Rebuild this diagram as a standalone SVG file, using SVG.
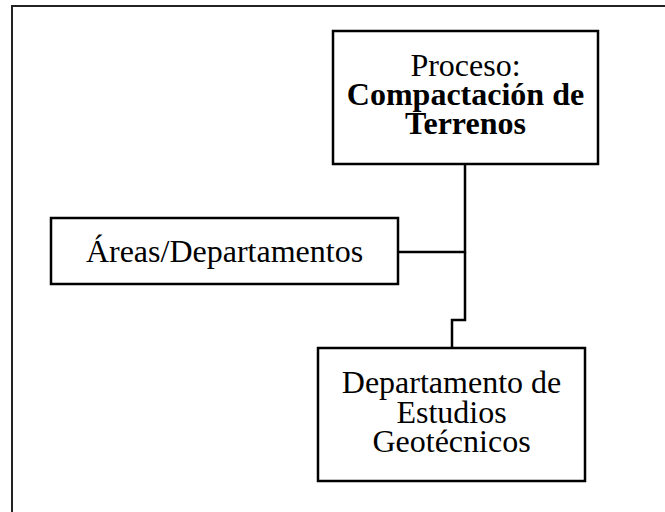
<svg xmlns="http://www.w3.org/2000/svg" width="665" height="512" viewBox="0 0 665 512">
<style>
.box{fill:#fff;stroke:#000;stroke-width:2.5}
.t{font-family:"Liberation Serif","Times New Roman",serif;font-size:32px;fill:#000;text-anchor:middle}
.b{font-weight:bold}
.c{fill:none;stroke:#000;stroke-width:2.5}
.frame{fill:none;stroke:#222;stroke-width:2}
</style>
<rect width="665" height="512" fill="#fff"/>
<path class="frame" d="M12,512 V6 H665"/>
<g id="connectors">
<path class="c" d="M465,164 V252 H398"/>
<path class="c" d="M465,252 V320 H452 V348"/>
</g>
<g id="proceso">
<rect class="box" x="333" y="31" width="265" height="133"/>
<text class="t" x="465.5" y="76">Proceso:</text>
<text class="t b" x="465.5" y="105">Compactación de</text>
<text class="t b" x="465.5" y="134">Terrenos</text>
</g>
<g id="areas">
<rect class="box" x="51" y="218" width="347" height="66"/>
<text class="t" x="224.5" y="262">Áreas/Departamentos</text>
</g>
<g id="geotecnia">
<rect class="box" x="318" y="348" width="267" height="133"/>
<text class="t" x="451.5" y="393">Departamento de</text>
<text class="t" x="451.5" y="423">Estudios</text>
<text class="t" x="451.5" y="452">Geotécnicos</text>
</g>
</svg>
